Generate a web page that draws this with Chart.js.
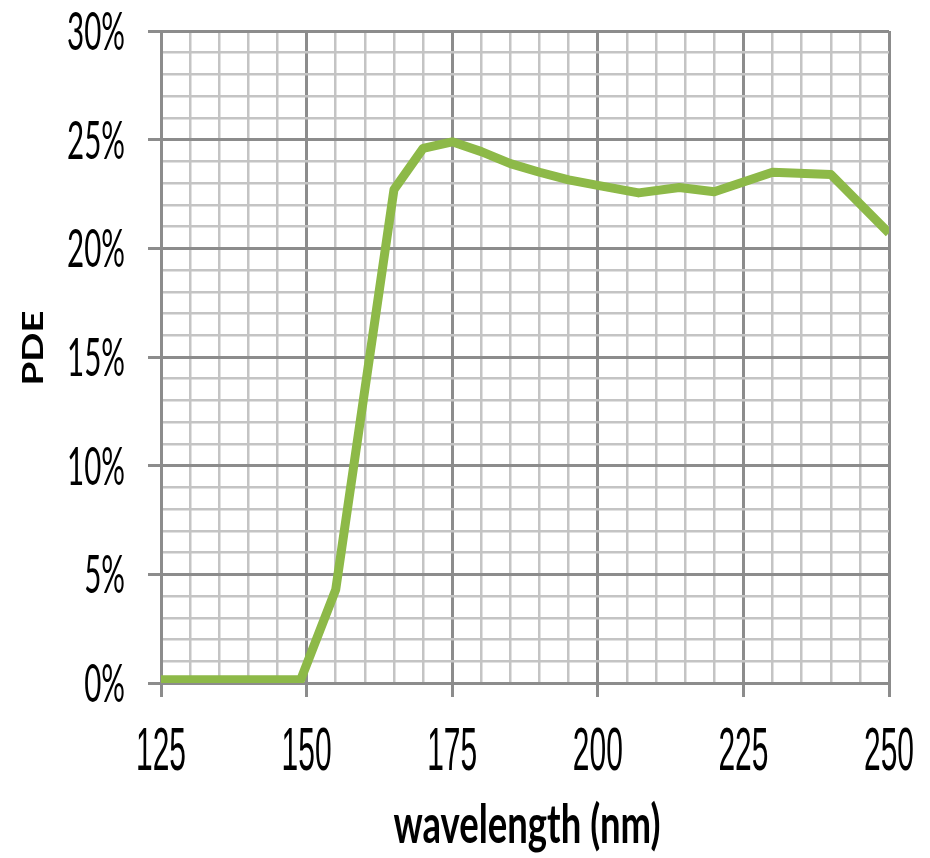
<!DOCTYPE html>
<html><head><meta charset="utf-8">
<script src="https://cdn.jsdelivr.net/npm/chart.js@4/dist/chart.umd.min.js"></script>
<style>html,body{margin:0;padding:0;background:#fff;overflow:hidden}</style>
</head><body>
<canvas id="c" width="930" height="858" style="display:block;width:930px;height:858px"></canvas>
<script>
// ---- data ----
const wavelengths = [125, 149, 155, 165, 170, 175, 180, 185, 190, 195, 200, 207, 214, 220, 230, 240, 250];
const pdePercent  = [0.15, 0.15, 4.3, 22.7, 24.6, 24.9, 24.45, 23.9, 23.5, 23.15, 22.9, 22.55, 22.8, 22.6, 23.5, 23.4, 20.7];
const xTickLabels = ['125', '150', '175', '200', '225', '250'];
const yTickLabels = ['0%', '5%', '10%', '15%', '20%', '25%', '30%'];
const xTitle = 'wavelength (nm)';
const yTitle = 'PDE';

// ---- styles ----
const MAJOR = '#8c8c8c';
const MINOR = '#c4c4c4';
const LINE  = '#8db948';

const points = wavelengths.map((w, i) => ({ x: w, y: pdePercent[i] }));
const xLabelFor = v => xTickLabels.find(l => Number(l) === v) || '';
const yLabelFor = v => yTickLabels.find(l => parseFloat(l) === v) || '';
const isMajorTick = ctx => !!(ctx.scale.axis === 'x' ? xLabelFor(ctx.tick.value) : yLabelFor(ctx.tick.value));

function fontStr(f) { return (f.weight ? f.weight + ' ' : '') + f.size + 'px ' + f.family; }

// draws the library's tick labels / titles, squeezed horizontally like the reference
const squeezeText = {
  id: 'squeezeText',
  afterLayout(chart) {
    const xs = chart.scales.x, ys = chart.scales.y;
    if (!xs._sq) {
      xs._sq = true;
      xs.drawLabels = function (area) {
        const ctx = this.ctx;
        const items = this.getLabelItems(area).filter(it => it.label !== '');
        if (!items.length) return;
        ctx.save();
        ctx.font = items[0].font.string;
        const sx = 50 / ctx.measureText(items[0].label).width;
        for (const it of items) {
          ctx.save();
          ctx.translate(it.options.translation[0], this.top + 87);
          ctx.scale(sx, 1);
          ctx.font = it.font.string;
          ctx.fillStyle = it.options.color;
          ctx.textAlign = 'center';
          ctx.textBaseline = 'alphabetic';
          ctx.fillText(it.label, 0, 0);
          ctx.restore();
        }
        ctx.restore();
      };
      xs.drawTitle = function () {
        const t = this.options.title, ctx = this.ctx;
        ctx.save();
        ctx.font = fontStr(t.font);
        const sx = 267 / ctx.measureText(t.text).width;
        ctx.translate((this.left + this.right) / 2 + 2, this.top + 160);
        ctx.scale(sx, 1);
        ctx.fillStyle = t.color;
        ctx.textAlign = 'center';
        ctx.textBaseline = 'alphabetic';
        ctx.fillText(t.text, 0, 0);
        ctx.restore();
      };
    }
    if (!ys._sq) {
      ys._sq = true;
      ys.drawLabels = function (area) {
        const ctx = this.ctx;
        const items = this.getLabelItems(area).filter(it => it.label !== '');
        if (!items.length) return;
        ctx.save();
        ctx.font = items[0].font.string;
        const sample = items.find(it => it.label.length === 3) || items[0];
        const sx = 58 / ctx.measureText(sample.label).width;
        const asc = ctx.measureText('0').actualBoundingBoxAscent;
        for (const it of items) {
          ctx.save();
          ctx.translate(this.right - 36, it.options.translation[1] + asc / 2);
          ctx.scale(sx, 1);
          ctx.font = it.font.string;
          ctx.fillStyle = it.options.color;
          ctx.textAlign = 'right';
          ctx.textBaseline = 'alphabetic';
          ctx.fillText(it.label, 0, 0);
          ctx.restore();
        }
        ctx.restore();
      };
      ys.drawTitle = function () {
        const t = this.options.title, ctx = this.ctx;
        const ca = this.chart.chartArea;
        ctx.save();
        ctx.font = fontStr(t.font);
        const sx = 75 / ctx.measureText(t.text).width;
        ctx.translate(this.left + 43, (ca.top + ca.bottom) / 2 - 9);
        ctx.rotate(-Math.PI / 2);
        ctx.scale(sx, 1);
        ctx.fillStyle = t.color;
        ctx.textAlign = 'center';
        ctx.textBaseline = 'alphabetic';
        ctx.fillText(t.text, 0, 0);
        ctx.restore();
      };
    }
  }
};

new Chart(document.getElementById('c'), {
  type: 'line',
  data: {
    datasets: [{
      data: points,
      borderColor: LINE,
      backgroundColor: LINE,
      borderWidth: 9,
      pointRadius: 0,
      pointHoverRadius: 0,
      tension: 0,
      borderJoinStyle: 'round',
      borderCapStyle: 'butt',
      fill: false
    }]
  },
  options: {
    responsive: false,
    animation: false,
    devicePixelRatio: 1,
    layout: { padding: { top: 31, right: 41, bottom: 0, left: 0 } },
    plugins: { legend: { display: false }, tooltip: { enabled: false } },
    events: [],
    scales: {
      x: {
        type: 'linear', min: 125, max: 250,
        afterFit(s) { s.height = 175; s.paddingLeft = 0; s.paddingRight = 0; },
        ticks: {
          stepSize: 5, autoSkip: false, maxRotation: 0, minRotation: 0, padding: 0,
          color: '#000', font: { family: "'Liberation Sans'", size: 62 },
          callback: v => xLabelFor(v)
        },
        grid: {
          color: c => isMajorTick(c) ? MAJOR : MINOR,
          lineWidth: c => isMajorTick(c) ? 3 : 2.5,
          tickColor: c => isMajorTick(c) ? MAJOR : 'rgba(0,0,0,0)',
          tickLength: 14, tickWidth: 3
        },
        border: { color: MAJOR, width: 3 },
        title: { display: true, text: xTitle, color: '#000', font: { family: 'Lato', weight: 'bold', size: 54 } }
      },
      y: {
        min: 0, max: 30,
        afterFit(s) { s.width = 161; s.paddingTop = 0; s.paddingBottom = 0; },
        ticks: {
          stepSize: 1, autoSkip: false, padding: 0,
          color: '#000', font: { family: 'Lato', size: 52 },
          callback: v => yLabelFor(v)
        },
        grid: {
          color: c => isMajorTick(c) ? MAJOR : MINOR,
          lineWidth: c => isMajorTick(c) ? 3 : 2.5,
          tickColor: c => isMajorTick(c) ? MAJOR : 'rgba(0,0,0,0)',
          tickLength: 13, tickWidth: 3
        },
        border: { color: MAJOR, width: 3 },
        title: { display: true, text: yTitle, color: '#000', font: { family: 'Lato', weight: 'bold', size: 28 } }
      }
    }
  },
  plugins: [squeezeText]
});
</script>
</body></html>
